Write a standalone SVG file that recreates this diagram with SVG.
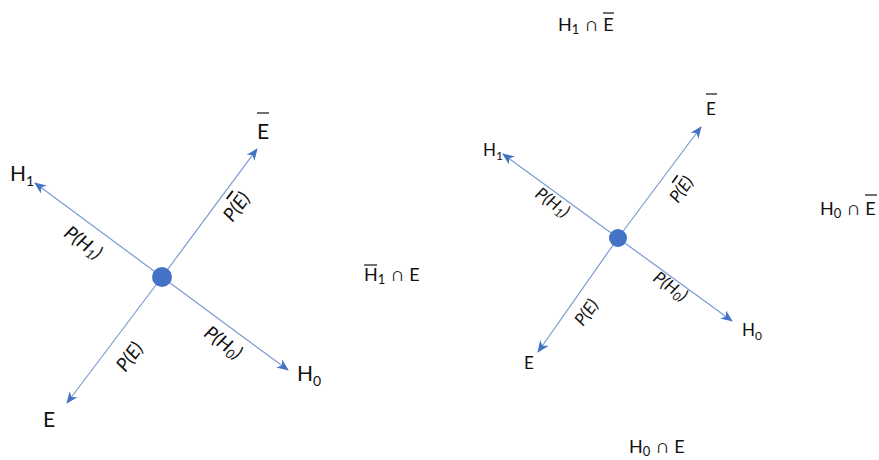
<svg xmlns="http://www.w3.org/2000/svg" width="879" height="460" viewBox="0 0 879 460">
<defs>
<marker id="ah" viewBox="0 0 12 10" refX="11" refY="5" markerWidth="12" markerHeight="10" markerUnits="userSpaceOnUse" orient="auto">
<path d="M0,0 L12,5 L0,10 L3.5,5 Z" fill="#4472C4"/>
</marker>
</defs>
<style>
.ln{stroke:#7b9ad2;stroke-width:1.2;fill:none;marker-end:url(#ah)}
.dot{fill:#4472C4}
text{font-family:Lato,"Noto Sans","DejaVu Sans",sans-serif;fill:#111}
.nl{font-size:21px}
.nr{font-size:17px}
.fl{font-size:18px;word-spacing:2px}
.pl{font-size:19px;font-style:italic;text-anchor:middle}
.pr{font-size:17px;font-style:italic;text-anchor:middle}
.ov{text-decoration:overline}
.bar{stroke:#111;stroke-width:1.2}
</style>
<g id="connectors">
<line class="ln" x1="162" y1="277" x2="35" y2="183"/>
<line class="ln" x1="162" y1="277" x2="257" y2="149"/>
<line class="ln" x1="162" y1="277" x2="288" y2="370"/>
<line class="ln" x1="162" y1="277" x2="67" y2="403"/>
<line class="ln" x1="618" y1="238" x2="503" y2="154"/>
<line class="ln" x1="618" y1="238" x2="701" y2="127"/>
<line class="ln" x1="618" y1="238" x2="732" y2="321"/>
<line class="ln" x1="618" y1="238" x2="538" y2="352"/>
</g>
<g id="left-center"><circle class="dot" cx="162" cy="277" r="10"/></g>
<g id="right-center"><circle class="dot" cx="618" cy="238" r="9"/></g>
<g id="left-H1"><text class="nl" x="10" y="181">H<tspan font-size="14" dy="5">1</tspan></text></g>
<g id="left-Ebar"><text class="nl" x="257" y="139">E</text><line class="bar" x1="257" y1="113" x2="269" y2="113"/></g>
<g id="left-H0"><text class="nl" x="297" y="381">H<tspan font-size="14" dy="5">0</tspan></text></g>
<g id="left-E"><text class="nl" x="43" y="427">E</text></g>
<g id="right-H1"><text class="nr" x="483" y="156">H<tspan font-size="12" dy="4">1</tspan></text></g>
<g id="right-Ebar"><text class="nr" x="706" y="115">E</text><line class="bar" x1="706" y1="94" x2="717" y2="94"/></g>
<g id="right-H0"><text class="nr" x="742" y="336">H<tspan font-size="12" dy="4">0</tspan></text></g>
<g id="right-E"><text class="nr" x="524" y="369">E</text></g>
<g id="label-H1-Ebar"><text class="fl" x="558" y="31">H<tspan font-size="13" dy="3">1</tspan><tspan dy="-3"> ∩ E</tspan></text><line class="bar" x1="603" y1="13" x2="614" y2="13"/></g>
<g id="label-H1bar-E"><text class="fl" x="364" y="281">H<tspan font-size="13" dy="3">1</tspan><tspan dy="-3"> ∩ E</tspan></text><line class="bar" x1="364" y1="265" x2="377" y2="265"/></g>
<g id="label-H0-Ebar"><text class="fl" x="820" y="215">H<tspan font-size="13" dy="3">0</tspan><tspan dy="-3"> ∩ E</tspan></text><line class="bar" x1="865" y1="195" x2="877" y2="195"/></g>
<g id="label-H0-E"><text class="fl" x="629" y="453">H<tspan font-size="13" dy="3">0</tspan><tspan dy="-3"> ∩ E</tspan></text></g>
<g id="edge-labels">
<text class="pl" transform="translate(83,243) rotate(36.5)" y="6">P(H<tspan font-size="13" dy="3">1</tspan><tspan dy="-3">)</tspan></text>
<text class="pl" transform="translate(237,207) rotate(-53.2)" y="6">P(<tspan class="ov">E</tspan>)</text>
<text class="pl" transform="translate(223,343) rotate(36.5)" y="6">P(H<tspan font-size="13" dy="3">0</tspan><tspan dy="-3">)</tspan></text>
<text class="pl" transform="translate(130,357) rotate(-53.2)" y="6">P(E)</text>
<text class="pr" transform="translate(552,203) rotate(36)" y="5">P(H<tspan font-size="12" dy="3">1</tspan><tspan dy="-3">)</tspan></text>
<text class="pr" transform="translate(682,190) rotate(-54)" y="5">P(<tspan class="ov">E</tspan>)</text>
<text class="pr" transform="translate(670,287) rotate(36)" y="5">P(H<tspan font-size="12" dy="3">0</tspan><tspan dy="-3">)</tspan></text>
<text class="pr" transform="translate(587,313) rotate(-54)" y="5">P(E)</text>
</g>
</svg>
